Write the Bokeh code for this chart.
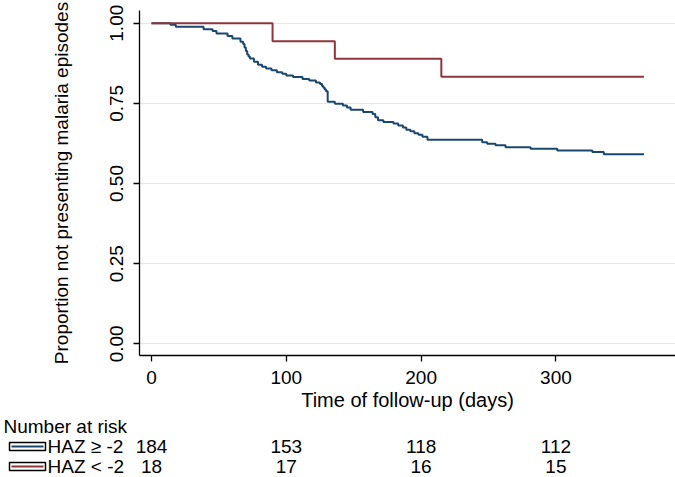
from bokeh.plotting import figure
from bokeh.layouts import column
from bokeh.models import Range1d, FixedTicker, NumeralTickFormatter
from bokeh.core.properties import value
from bokeh.embed import file_html
from bokeh.resources import INLINE

# ---------------- data ----------------
blue_days = [0, 14, 18, 38.6, 45.3, 48.2, 56.4, 60, 66,
             68, 69, 70, 71, 72, 73,
             76, 79, 82, 85, 89, 93, 97, 100,
             105, 112, 117, 122, 125,
             126.5, 127.5, 128.5, 129.5, 130.7,
             136, 142, 145, 147.7,
             157, 164, 166, 168, 172,
             179.5, 183, 186.5, 189, 192, 195, 198, 201, 204.7,
             245.3, 249, 255.2, 262.6, 281.2, 301, 327, 335.5, 365.3]
blue_surv = [1.0, 0.995, 0.989, 0.981, 0.976, 0.968, 0.960, 0.952, 0.942,
             0.935, 0.924, 0.913, 0.902, 0.896, 0.890,
             0.880, 0.870, 0.864, 0.859, 0.853, 0.847, 0.842, 0.837,
             0.832, 0.826, 0.821, 0.815, 0.810,
             0.804, 0.799, 0.793, 0.788, 0.755,
             0.749, 0.743, 0.737, 0.730,
             0.723, 0.717, 0.707, 0.697, 0.692,
             0.687, 0.681, 0.675, 0.668, 0.663, 0.657, 0.652, 0.646, 0.6365,
             0.629, 0.624, 0.619, 0.613, 0.608, 0.603, 0.598, 0.591, 0.591]

red_days = [0, 89.8, 136, 215, 365.3]
red_surv = [1.0, 0.944, 0.889, 0.833, 0.833]

risk_times = [0, 100, 200, 300]
risk_blue = [184, 153, 118, 112]
risk_red = [18, 17, 16, 15]
group_labels = ["HAZ \u2265 -2", "HAZ < -2"]
table_title = "Number at risk"

x_ticks = [0, 100, 200, 300]
y_ticks = [0, 0.25, 0.5, 0.75, 1.0]
x_title = "Time of follow-up (days)"
y_title = "Proportion not presenting malaria episodes"

# ---------------- style / layout ----------------
FONT = "Liberation Sans"
BLUE = "#1a476f"
RED = "#90353b"
W = 675
H1 = 416
H2 = 61
LEFT = 139
X0, X1 = -8.9, 388.7
Y0, Y1 = -0.0365, 1.0396

p1 = figure(width=W, height=H1, x_range=Range1d(X0, X1), y_range=Range1d(Y0, Y1),
            output_backend="svg", toolbar_location=None,
            min_border_left=LEFT, min_border_right=0, min_border_top=10, min_border_bottom=61)
p1.outline_line_color = None
p1.background_fill_color = "white"
p1.border_fill_color = "white"
p1.xgrid.visible = False
p1.ygrid.grid_line_color = "#dfe8ee"
p1.ygrid.grid_line_width = 1

p1.xaxis.ticker = FixedTicker(ticks=x_ticks)
p1.yaxis.ticker = FixedTicker(ticks=y_ticks)
p1.yaxis.formatter = NumeralTickFormatter(format="0.00")
p1.yaxis.major_label_orientation = "vertical"

for ax in (p1.xaxis, p1.yaxis):
    ax.axis_line_color = "black"
    ax.axis_line_width = 1.3
    ax.major_tick_line_color = "black"
    ax.major_tick_line_width = 1.3
    ax.major_tick_out = 6
    ax.major_tick_in = 0
    ax.minor_tick_out = 0
    ax.minor_tick_in = 0
    ax.major_label_text_font = FONT
    ax.major_label_text_font_size = "19px"
    ax.major_label_text_color = "black"
    ax.axis_label_text_font = FONT
    ax.axis_label_text_font_style = "normal"
    ax.axis_label_text_color = "black"

p1.xaxis.major_label_standoff = 9
p1.xaxis.axis_label = x_title
p1.xaxis.axis_label_text_font_size = "20px"
p1.xaxis.axis_label_standoff = 2

p1.yaxis.major_label_standoff = 10
p1.yaxis.axis_label = y_title
p1.yaxis.axis_label_text_font_size = "19px"
p1.yaxis.axis_label_standoff = 36

p1.step(blue_days, blue_surv, mode="after", line_color=BLUE, line_width=2)
p1.step(red_days, red_surv, mode="after", line_color=RED, line_width=2)

# ---------------- number-at-risk table ----------------
per_px = (X1 - X0) / (W - LEFT)
T0 = X0 - LEFT * per_px
p2 = figure(width=W, height=H2, x_range=Range1d(T0, X1),
            y_range=Range1d(H2, 0), x_axis_type=None, y_axis_type=None,
            output_backend="svg", toolbar_location=None,
            min_border_left=0, min_border_right=0, min_border_top=0, min_border_bottom=0)
p2.outline_line_color = None
p2.grid.visible = False
p2.background_fill_color = "white"
p2.border_fill_color = "white"

# do not align the table's frame with the main plot's frame
for fig in (p1, p2):
    try:
        fig.frame_align = False
    except Exception:
        pass


def px(v):
    # layout position (pixels from the left of the page) -> table x coordinate
    return T0 + v * per_px


rows_y = [10, 30, 50]
txt = dict(text_font=value(FONT), text_font_size="19px", text_color="black",
           text_baseline="middle")

p2.text(x=[px(3)], y=[rows_y[0]], text=[table_title], text_align="left", **txt)
p2.text(x=[px(47)] * 2, y=rows_y[1:], text=group_labels, text_align="left", **txt)
p2.quad(left=[px(9)] * 2, right=[px(45)] * 2, top=[y - 4 for y in rows_y[1:]],
        bottom=[y + 4 for y in rows_y[1:]],
        fill_color=None, line_color="black", line_width=1.5)
p2.segment(x0=[px(11)] * 2, x1=[px(43)] * 2, y0=rows_y[1:], y1=rows_y[1:],
           line_color=[BLUE, RED], line_width=2)

p2.text(x=risk_times + risk_times,
        y=[rows_y[1]] * len(risk_times) + [rows_y[2]] * len(risk_times),
        text=[str(v) for v in risk_blue + risk_red], text_align="center", **txt)

layout = column(p1, p2, spacing=0)
open("out.html", "w").write(file_html(layout, INLINE))
